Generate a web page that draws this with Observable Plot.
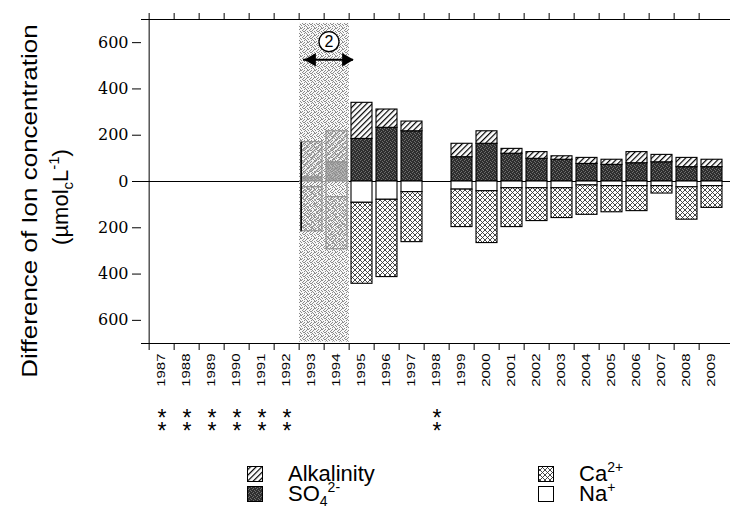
<!DOCTYPE html>
<html>
<head>
<meta charset="utf-8">
<script src="https://cdn.jsdelivr.net/npm/d3@7"></script>
<script src="https://cdn.jsdelivr.net/npm/@observablehq/plot@0.6"></script>
<style>
  body { margin: 0; background: #fff; }
  #chart { position: relative; width: 730px; height: 509px; overflow: hidden; font-family: "Liberation Sans", Arial, sans-serif; }
  #chart svg { display: block; }
</style>
</head>
<body>
<div id="chart"></div>
<script>
// Sampling years on the x axis
const years = ["1987","1988","1989","1990","1991","1992","1993","1994","1995","1996","1997","1998",
               "1999","2000","2001","2002","2003","2004","2005","2006","2007","2008","2009"];

// Years with measured ion differences (µmol_c L⁻¹)
const barYears   = ["1993","1994","1995","1996","1997","1999","2000","2001","2002","2003","2004","2005","2006","2007","2008","2009"];
const alkalinity = [152, 134, 156,  79,  42,  58,  54,  21,  29,  15,  26,  22,  48,  32,  40,  32];
const sulfate    = [ 18,  83, 184, 232, 217, 105, 163, 120,  98,  94,  76,  72,  79,  83,  62,  62];
const sodium     = [-25, -68, -92, -79, -46, -35, -42, -29, -29, -29, -17, -20, -20, -20, -25, -20];
const calcium    = [-190,-225,-350,-334,-216,-162,-224,-168,-142,-129,-127,-113,-108, -32,-140, -94];

// Years marked with ** below the axis
const flagged = ["1987","1988","1989","1990","1991","1992","1998"];

// Highlighted period ② and its annotation
const period = ["1993","1994"];
const shadeRange = [-694, 683];
const arrowY = 526;
const badge = {x: "1994", y: 604, label: "2"};

const yTicks = [-600, -400, -200, 0, 200, 400, 600];

const ions = ["Alkalinity", "SO4", "Ca", "Na"];
const ionFill = {Alkalinity: "url(#hatch)", SO4: "url(#sulfate)", Ca: "url(#cross)", Na: "white"};

// Long table: anions stack upward (SO4 then alkalinity), cations downward (Na then Ca)
const table = barYears.flatMap((year, i) => [
  {year, ion: "SO4", value: sulfate[i]},
  {year, ion: "Alkalinity", value: alkalinity[i]},
  {year, ion: "Na", value: sodium[i]},
  {year, ion: "Ca", value: calcium[i]}
]);

const width = 730, height = 445;
const marginLeft = 141, marginRight = -2, marginTop = 19, marginBottom = 102;
const bw = (width - marginLeft - marginRight) / years.length;
const inset = 2;

const first = barYears.indexOf(period[0]);

const plot = Plot.plot({
  width, height, marginLeft, marginRight, marginTop, marginBottom,
  x: {domain: years, padding: 0, label: null},
  y: {domain: [-700, 700], label: null},
  color: {domain: ions, range: ions.map(k => ionFill[k])},
  style: {fontFamily: "Liberation Sans, Arial, sans-serif", background: "white", color: "black"},
  marks: [
    Plot.ruleY([0], {stroke: "black", strokeWidth: 1}),
    Plot.barY(table, Plot.stackY({
      x: "year", y: "value", fill: "ion", order: null,
      stroke: "black", strokeWidth: 1.1, insetLeft: inset, insetRight: inset
    })),
    // shaded period
    Plot.barY(period, {x: d => d, y1: () => shadeRange[0], y2: () => shadeRange[1], fill: "url(#stipple)"}),
    Plot.ruleX([period[0]], {
      x: d => d, y1: () => sodium[first] + calcium[first], y2: () => sulfate[first] + alkalinity[first],
      dx: -(bw / 2 - inset), stroke: "black", strokeWidth: 1.6
    }),
    // frame
    Plot.ruleY([-700, 700], {stroke: "black", strokeWidth: 1}),
    Plot.ruleX([years[0]], {x: d => d, dx: -bw / 2, stroke: "black", strokeWidth: 1}),
    // axes
    Plot.axisY({ticks: yTicks, tickSize: 9, tickPadding: 4, tickFormat: d => String(Math.abs(d)),
      fontFamily: "DejaVu Serif", fontSize: 16, label: null}),
    Plot.axisX({anchor: "top", tickSize: 7, tickFormat: () => "", dx: -bw / 2, label: null}),
    Plot.axisX({anchor: "bottom", tickSize: 7, tickFormat: () => "", dx: -bw / 2, label: null}),
    Plot.axisX({anchor: "bottom", tickSize: 0, tickPadding: 10, tickRotate: -90, fontSize: 15, label: null}),
    // period annotation
    Plot.ruleY([arrowY], {x1: () => period[0], x2: () => period[1], dx: 4, stroke: "black", strokeWidth: 2}),
    Plot.dot([period[0]], {x: d => d, y: () => arrowY, symbol: "triangle", r: 5, rotate: -90, fill: "black", stroke: "none", dx: 0}),
    Plot.dot([period[1]], {x: d => d, y: () => arrowY, symbol: "triangle", r: 5, rotate: 90, fill: "black", stroke: "none", dx: 9}),
    Plot.dot([badge], {x: "x", y: "y", r: 10, fill: "white", stroke: "black", strokeWidth: 1.3, dx: -8}),
    Plot.text([badge], {x: "x", y: "y", text: "label", fontSize: 16, dx: -8}),
    // significance marks
    Plot.text(flagged, {x: d => d, frameAnchor: "bottom", text: () => "*\n*", fontSize: 23,
      lineHeight: 0.55, lineAnchor: "top", dy: 74})
  ]
});

const svg = d3.select(plot);
const defs = svg.insert("defs", ":first-child");

// diagonal hatching: alkalinity
const hatch = defs.append("pattern").attr("id", "hatch").attr("patternUnits", "userSpaceOnUse")
  .attr("width", 4).attr("height", 4).attr("patternTransform", "rotate(45)");
hatch.append("rect").attr("width", 4).attr("height", 4).attr("fill", "white");
hatch.append("line").attr("x1", 0).attr("y1", 0).attr("x2", 0).attr("y2", 4)
  .attr("stroke", "black").attr("stroke-width", 2.4);

// cross-hatching: Ca2+
const cross = defs.append("pattern").attr("id", "cross").attr("patternUnits", "userSpaceOnUse")
  .attr("width", 5).attr("height", 5);
cross.append("rect").attr("width", 5).attr("height", 5).attr("fill", "white");
cross.append("path").attr("d", "M0,0L5,5M5,0L0,5").attr("stroke", "#333").attr("stroke-width", 0.9);

// dark mottled fill: SO4
const sul = defs.append("pattern").attr("id", "sulfate").attr("patternUnits", "userSpaceOnUse")
  .attr("width", 4).attr("height", 4);
sul.append("rect").attr("width", 4).attr("height", 4).attr("fill", "#2f2f2f");
[[0, 0], [2, 1], [1, 3], [3, 2]].forEach(([x, y]) =>
  sul.append("rect").attr("x", x).attr("y", y).attr("width", 1).attr("height", 1).attr("fill", "#6e6e6e"));

// stippled veil over the highlighted period
const st = defs.append("pattern").attr("id", "stipple").attr("patternUnits", "userSpaceOnUse")
  .attr("width", 7).attr("height", 7);
st.append("rect").attr("width", 7).attr("height", 7).attr("fill", "#f4f4f4").attr("fill-opacity", 0.6);
[[0,0],[3,0],[5,1],[1,2],[4,2],[6,3],[2,3],[0,4],[3,5],[5,5],[1,6],[6,6],[4,4],[2,1],[6,0],[3,3]].forEach(([x, y]) =>
  st.append("rect").attr("x", x).attr("y", y).attr("width", 1).attr("height", 1).attr("fill", "#8c8c8c"));

// narrow, tall year labels
svg.selectAll('g[aria-label="x-axis tick label"] text').each(function() {
  const t = d3.select(this);
  const tr = t.attr("transform");
  if (tr && tr.includes("rotate")) t.attr("transform", tr + " scale(1,0.7)");
});

// y-axis title
const title = svg.append("g").attr("font-family", "Liberation Sans, Arial, sans-serif").attr("fill", "black");
title.append("text").attr("transform", "translate(37,201) rotate(-90) scale(1,0.85)").attr("text-anchor", "middle")
  .attr("font-size", 26).text("Difference of Ion concentration");
const unit = title.append("text").attr("transform", "translate(68,197) rotate(-90)").attr("text-anchor", "middle")
  .attr("font-size", 22);
unit.append("tspan").text("(µmol");
unit.append("tspan").attr("dy", 5).attr("font-size", 15).text("c");
unit.append("tspan").attr("dy", -5).text("L");
unit.append("tspan").attr("dy", -9).attr("font-size", 15).text("-1");
unit.append("tspan").attr("dy", 9).text(")");

const chart = document.getElementById("chart");
chart.appendChild(plot);

// legend below the chart
const lg = d3.select(chart).append("svg").attr("width", width).attr("height", 509 - height)
  .attr("font-family", "Liberation Sans, Arial, sans-serif").attr("font-size", 22);
const items = [
  {ion: "Alkalinity", x: 247, row: 0},
  {ion: "SO4", x: 247, row: 1},
  {ion: "Ca", x: 538, row: 0},
  {ion: "Na", x: 538, row: 1}
];
items.forEach(d => {
  const top = 21 + d.row * 20;
  lg.append("rect").attr("x", d.x + 0.5).attr("y", top + 0.5).attr("width", 15).attr("height", 15)
    .attr("fill", ionFill[d.ion]).attr("stroke", "black").attr("stroke-width", 1);
  const base = top + 15;
  const t = lg.append("text").attr("x", d.x + 41).attr("y", base);
  if (d.ion === "Alkalinity") t.text("Alkalinity");
  if (d.ion === "SO4") {
    t.append("tspan").text("SO");
    t.append("tspan").attr("y", base + 5).attr("font-size", 14).text("4");
    t.append("tspan").attr("y", base - 9).attr("font-size", 14).text("2-");
  }
  if (d.ion === "Ca") {
    t.append("tspan").text("Ca");
    t.append("tspan").attr("y", base - 9).attr("font-size", 14).text("2+");
  }
  if (d.ion === "Na") {
    t.append("tspan").text("Na");
    t.append("tspan").attr("y", base - 9).attr("font-size", 14).text("+");
  }
});
</script>
</body>
</html>
